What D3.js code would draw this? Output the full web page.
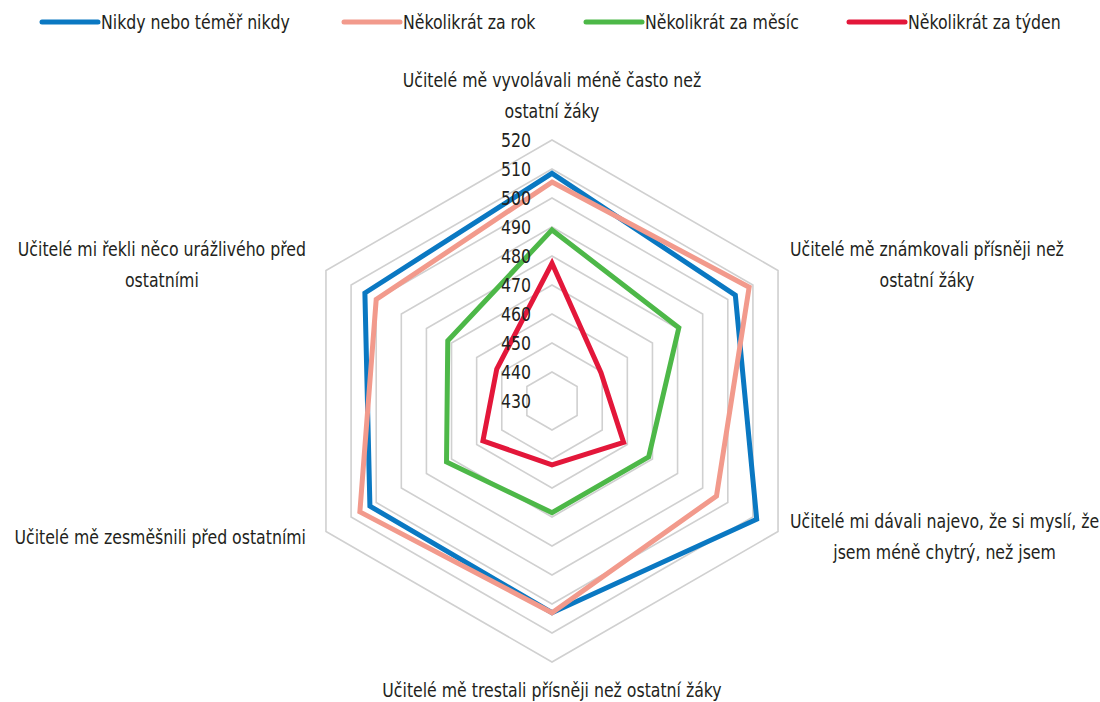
<!DOCTYPE html>
<html>
<head>
<meta charset="utf-8">
<script src="https://cdn.jsdelivr.net/npm/d3@7"></script>
<style>
  html, body { margin: 0; padding: 0; background: #fff; }
  svg { display: block; }
  text { font-family: "Liberation Sans Narrow", "DejaVu Sans Condensed", "Arial Narrow", sans-serif; fill: #231f20; }
</style>
</head>
<body>
<svg id="chart" width="1100" height="702"></svg>
<script>
const categories = [
  ["Učitelé mě vyvolávali méně často než", "ostatní žáky"],
  ["Učitelé mě známkovali přísněji než", "ostatní žáky"],
  ["Učitelé mi dávali najevo, že si myslí, že", "jsem méně chytrý, než jsem"],
  ["Učitelé mě trestali přísněji než ostatní žáky"],
  ["Učitelé mě zesměšnili před ostatními"],
  ["Učitelé mi řekli něco urážlivého před", "ostatními"]
];
const seriesNames = ["Nikdy nebo téměř nikdy", "Několikrát za rok", "Několikrát za měsíc", "Několikrát za týden"];
const seriesColors = ["#0a78c2", "#f29a8c", "#4db848", "#e3173a"];
const nikdy   = [508.5, 503, 511.5, 503, 502.5, 504.5];
const zaRok   = [505.5, 508.5, 495.5, 503, 506.5, 500];
const zaMesic = [489, 480.5, 468.5, 468.5, 472, 471.5];
const zaTyden = [477.5, 449.5, 458.5, 452, 457.5, 452];
const seriesValues = [nikdy, zaRok, zaMesic, zaTyden];
const tickValues = [430, 440, 450, 460, 470, 480, 490, 500, 510, 520];

const SX = 0.875;   // horizontal condensing to mimic a condensed face
const FS = 20;

const svg = d3.select("#chart");
const cx = 552, cy = 401, R = 261;
const r = d3.scaleLinear().domain([430, 520]).range([0, R]);
const n = categories.length;
const angle = i => i * 2 * Math.PI / n;
const pt = (i, v) => [cx + r(v) * Math.sin(angle(i)), cy - r(v) * Math.cos(angle(i))];

function addText(parent, str, x, y, anchor) {
  return parent.append("text")
    .attr("font-size", FS)
    .attr("text-anchor", anchor)
    .attr("dy", "0.35em")
    .attr("transform", `translate(${x},${y}) scale(${SX},1)`)
    .text(str);
}

// grid
const grid = svg.append("g");
tickValues.slice(1).forEach(t => {
  grid.append("path")
    .attr("d", d3.line()(d3.range(n).map(i => pt(i, t))) + "Z")
    .attr("fill", "none").attr("stroke", "#d0d0d0").attr("stroke-width", 1.6);
});

// series
const lineGen = d3.line();
seriesValues.forEach((vals, s) => {
  svg.append("path")
    .attr("d", lineGen(vals.map((v, i) => pt(i, v))) + "Z")
    .attr("fill", "none")
    .attr("stroke", seriesColors[s])
    .attr("stroke-width", 5)
    .attr("stroke-linejoin", "miter");
});

// tick labels
const tg = svg.append("g");
tickValues.forEach(d => addText(tg, d, cx - 21, cy - r(d), "end"));

// category labels
const lh = 31;
categories.forEach((lines, i) => {
  const g = svg.append("g");
  const texts = lines.map(l => addText(g, l, 0, 0, "middle"));
  const w = d3.max(texts, t => t.node().getComputedTextLength()) * SX;
  const [vx, vy] = pt(i, 520);
  const sn = Math.sin(angle(i)), cs = Math.cos(angle(i));
  let x, yTop;
  const h = lines.length * lh;
  if (Math.abs(sn) < 0.01) {
    x = cx;
    yTop = (cs > 0) ? vy - 14 - h : vy + 12;
  } else if (sn > 0) {
    x = vx + 12 + w / 2;
    yTop = vy - h / 2 + (cs > 0 ? -6 : 5);
  } else {
    x = vx - 20 - w / 2;
    yTop = vy - h / 2 + (cs > 0 ? -6 : 5);
  }
  texts.forEach((t, k) => t.attr("transform", `translate(${x},${yTop + k * lh + lh / 2}) scale(${SX},1)`));
});

// legend
const legendX = [42, 344, 586, 849];
const lg = svg.append("g");
seriesNames.forEach((name, s) => {
  lg.append("line").attr("x1", legendX[s]).attr("x2", legendX[s] + 56)
    .attr("y1", 22).attr("y2", 22)
    .attr("stroke", seriesColors[s]).attr("stroke-width", 5).attr("stroke-linecap", "round");
  addText(lg, name, legendX[s] + 59, 22, "start");
});
</script>
</body>
</html>
